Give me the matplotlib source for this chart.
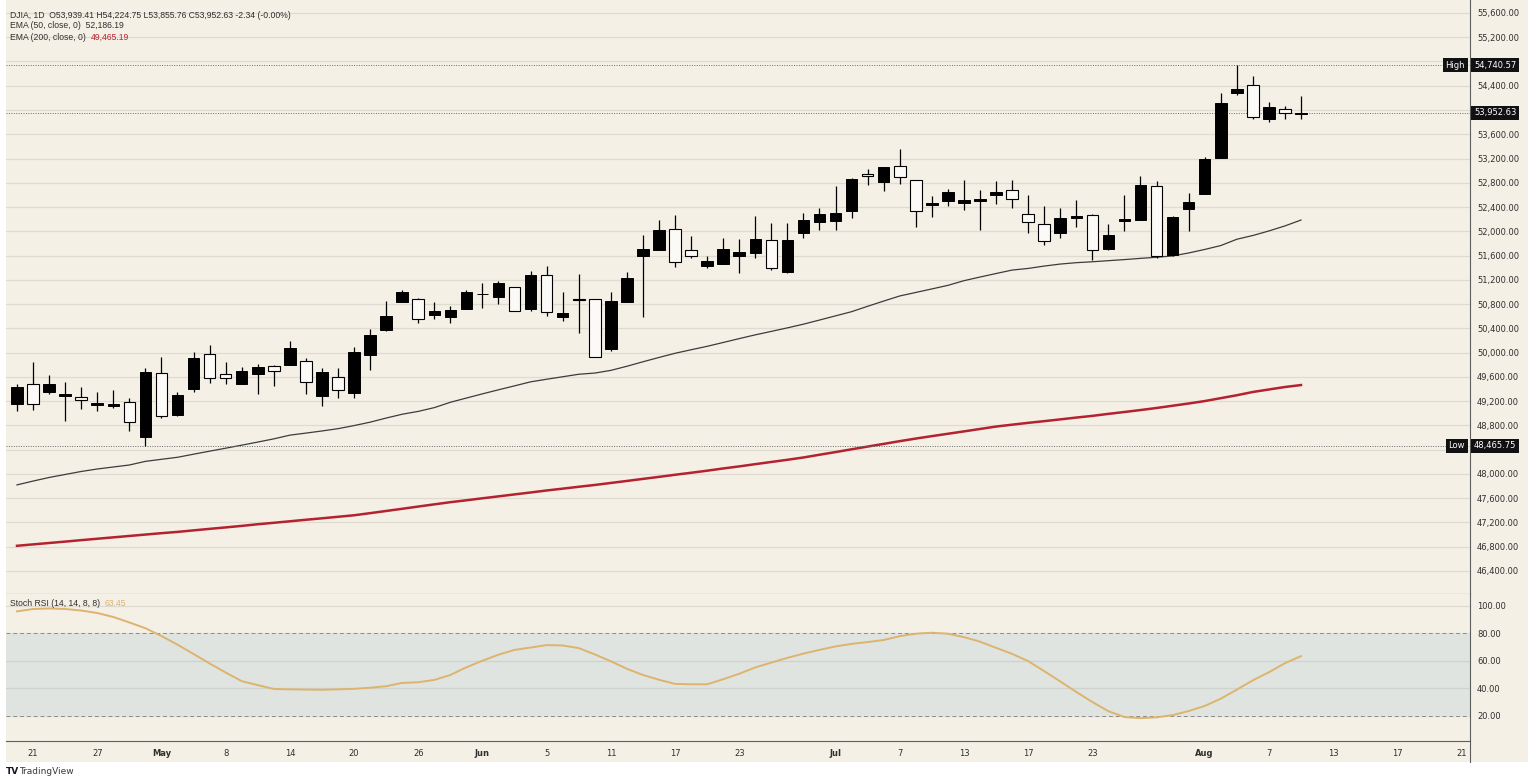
import matplotlib
matplotlib.use("Agg")
import matplotlib.pyplot as plt
import matplotlib.transforms as mtransforms
from matplotlib.patches import Rectangle
from matplotlib.lines import Line2D
import numpy as np

# DJIA daily candles (one entry per trading day)
opens = [49160, 49490, 49355, 49280, 49270, 49135, 49125, 49185, 48615, 49670,
         48975, 49405, 49985, 49650, 49475, 49655, 49780, 49795, 49860, 49280,
         49600, 49335, 49960, 50375, 50840, 50885, 50620, 50585, 50715, 50960,
         50910, 51075, 50715, 51280, 50580, 50880, 50880, 50055, 50830, 51600,
         51685, 52035, 51695, 51435, 51455, 51595, 51650, 51860, 51325, 51980,
         52150, 52165, 52330, 52945, 52815, 53085, 52840, 52430, 52495, 52475,
         52495, 52605, 52675, 52290, 52125, 51975, 52220, 52275, 51715, 52165,
         52180, 52740, 51605, 52360, 52620, 53210, 54280, 54405, 53855, 54015,
         53939.41]
highs = [49475, 49845, 49625, 49520, 49430, 49355, 49380, 49255, 49750, 49930,
         49355, 50015, 50125, 49850, 49760, 49820, 49795, 50195, 49915, 49750,
         49750, 50085, 50385, 50855, 51035, 50900, 50840, 50770, 51035, 51150,
         51175, 51090, 51340, 51435, 50995, 51295, 50880, 50995, 51325, 51940,
         52190, 52275, 51925, 51585, 51885, 51870, 52255, 52145, 52145, 52300,
         52385, 52740, 52880, 53030, 53060, 53350, 52840, 52590, 52700, 52850,
         52685, 52825, 52850, 52605, 52410, 52385, 52510, 52280, 52125, 52595,
         52905, 52835, 52260, 52630, 53225, 54280, 54740.57, 54555, 54140, 54060,
         54224.75]
lows = [49030, 49060, 49320, 48865, 49075, 49030, 49090, 48700, 48465.75, 48920,
        48960, 49350, 49500, 49475, 49475, 49320, 49445, 49795, 49310, 49125,
        49255, 49255, 49710, 50360, 50830, 50485, 50550, 50485, 50715, 50730,
        50800, 50690, 50690, 50605, 50525, 50320, 49935, 50030, 50830, 50580,
        51685, 51405, 51555, 51390, 51455, 51310, 51555, 51365, 51310, 51885,
        52025, 52025, 52220, 52770, 52660, 52785, 52070, 52235, 52410, 52355,
        52015, 52450, 52385, 51975, 51780, 51890, 52070, 51535, 51700, 52000,
        52180, 51560, 51590, 52000, 52620, 53210, 54240, 53850, 53800, 53850,
        53855.76]
closes = [49435, 49160, 49485, 49320, 49220, 49170, 49160, 48855, 49685, 48950,
          49300, 49915, 49585, 49575, 49705, 49770, 49695, 50070, 49520, 49685,
          49380, 50015, 50295, 50605, 50995, 50550, 50685, 50710, 50995, 50970,
          51140, 50690, 51285, 50675, 50645, 50870, 49935, 50845, 51225, 51705,
          52015, 51500, 51585, 51515, 51710, 51665, 51870, 51390, 51860, 52180,
          52290, 52310, 52870, 52910, 53055, 52895, 52340, 52475, 52645, 52510,
          52530, 52655, 52535, 52150, 51845, 52220, 52250, 51690, 51935, 52195,
          52760, 51590, 52230, 52485, 53190, 54115, 54350, 53880, 54045, 53950,
          53952.63]

ema50 = [47819, 47882, 47941, 47991, 48040, 48081, 48114, 48147, 48207, 48241,
         48274, 48325, 48375, 48424, 48474, 48525, 48578, 48639, 48673, 48708,
         48746, 48797, 48853, 48921, 48984, 49031, 49093, 49181, 49251, 49320,
         49387, 49452, 49518, 49561, 49602, 49643, 49663, 49707, 49775, 49849,
         49920, 49989, 50047, 50104, 50167, 50231, 50293, 50350, 50408, 50469,
         50537, 50606, 50675, 50764, 50850, 50934, 50992, 51050, 51109, 51186,
         51246, 51304, 51361, 51388, 51427, 51460, 51483, 51498, 51516, 51534,
         51554, 51572, 51594, 51643, 51701, 51765, 51869, 51931, 52006, 52089,
         52186.19]
ema200 = [46815, 46838, 46861, 46884, 46908, 46931, 46954, 46977, 47000, 47023,
          47044, 47069, 47094, 47118, 47143, 47170, 47194, 47219, 47244, 47268,
          47293, 47318, 47353, 47389, 47425, 47462, 47498, 47534, 47565, 47598,
          47630, 47662, 47694, 47727, 47757, 47788, 47818, 47851, 47884, 47918,
          47951, 47986, 48019, 48053, 48090, 48124, 48161, 48197, 48233, 48271,
          48316, 48360, 48406, 48451, 48495, 48540, 48583, 48623, 48662, 48701,
          48741, 48781, 48812, 48842, 48870, 48899, 48929, 48957, 48990, 49021,
          49053, 49087, 49124, 49161, 49201, 49249, 49297, 49351, 49392, 49433,
          49465.19]
stoch_rsi = [96.1, 97.8, 98.2, 97.8, 96.7, 94.9, 92.0, 88.0, 83.8, 78.1,
             71.8, 65.0, 58.1, 51.5, 45.2, 42.3, 39.5, 39.2, 39.0, 38.9,
             39.2, 39.6, 40.4, 41.5, 43.9, 44.4, 46.1, 49.7, 55.3, 60.1,
             64.5, 68.0, 69.7, 71.5, 71.2, 69.3, 64.7, 59.7, 54.2, 49.7,
             46.2, 43.2, 42.9, 42.9, 46.6, 50.6, 55.2, 58.7, 62.2, 65.3,
             68.0, 70.5, 72.4, 73.7, 75.2, 78.0, 79.8, 80.5, 79.8, 77.3,
             74.0, 69.5, 65.1, 59.8, 52.5, 45.0, 37.3, 30.0, 23.3, 19.0,
             18.2, 18.8, 20.4, 23.4, 27.1, 32.4, 39.0, 45.8, 51.7, 58.3,
             63.45]

# date labels under the chart, at the bar they belong to
tick_bars = [1, 5, 9, 13, 17, 21, 25, 29, 33, 37, 41, 45, 51, 55, 59, 63, 67,
             74, 78, 82, 86, 90]
tick_labels = ['21', '27', 'May', '8', '14', '20', '26', 'Jun', '5', '11', '17',
               '23', 'Jul', '7', '13', '17', '23', 'Aug', '7', '13', '17', '21']
months = {'May', 'Jun', 'Jul', 'Aug'}

high_price = 54740.57
low_price = 48465.75
last_close = 53952.63

W, H = 1528, 784
BG = '#f4f0e6'
GRID = '#dfdbd0'
TXT = '#2f2f2f'
BORDER = '#5e5e5e'
LEG_FONT = ['Liberation Sans', 'DejaVu Sans']

fig = plt.figure(figsize=(W / 100, H / 100), dpi=100, facecolor='white')
fig.patches.append(Rectangle((6 / W, 1 - 762 / H), 1 - 6 / W, 762 / H,
                             transform=fig.transFigure, facecolor=BG,
                             edgecolor='none', zorder=-10))

ax = fig.add_axes([6 / W, 1 - 594 / H, 1464 / W, 594 / H], facecolor=BG)
rx = fig.add_axes([6 / W, 1 - 741 / H, 1464 / W, 147 / H], facecolor=BG, sharex=ax)

x = np.arange(len(closes))
o = np.array(opens); c = np.array(closes)
up = c >= o

# price grid
price_ticks = np.arange(46400, 55601, 400)
for p in price_ticks:
    ax.axhline(p, color=GRID, lw=0.9, zorder=0)

# candles
ax.vlines(x, lows, highs, color='black', lw=0.9, zorder=2)
body_lo = np.minimum(o, c)
body_h = np.maximum(np.abs(c - o), 12)
ax.bar(x[up], body_h[up], bottom=body_lo[up], width=0.72, color='black',
       edgecolor='black', lw=0.7, zorder=3)
ax.bar(x[~up], body_h[~up], bottom=body_lo[~up], width=0.72, color='#fbfaf6',
       edgecolor='black', lw=0.8, zorder=3)

# moving averages
ax.plot(x, ema50, color='#3c3c3c', lw=0.9, zorder=1)
ax.plot(x, ema200, color='#b5222f', lw=1.8, zorder=1)

# high / low / last close lines
for p in (high_price, last_close, low_price):
    ax.axhline(p, color='#6a6a6a', lw=0.7, ls=(0, (1, 1.5)), zorder=1)

ax.set_xlim(-0.685, 90.53)
ax.set_ylim(46020, 55814)
ax.yaxis.tick_right()
# scale labels sitting under the last-close and low tags are hidden, as on the chart
shown = [p for p in price_ticks if p not in (54000, 48400)]
ax.set_yticks(shown)
ax.set_yticklabels([f'{p:,.2f}' for p in shown])
ax.tick_params(axis='y', length=0, pad=5, labelsize=6, labelcolor=TXT)
ax.tick_params(axis='x', length=0, labelbottom=False)
for s in ('top', 'left'):
    ax.spines[s].set_visible(False)
ax.spines['right'].set_color(BORDER)
ax.spines['bottom'].set_color(BORDER)
ax.spines['right'].set_linewidth(0.8)
ax.spines['bottom'].set_linewidth(0.8)

# price tags on the scale
tr = mtransforms.blended_transform_factory(ax.transAxes, ax.transData)
tag = dict(boxstyle='square,pad=0.3', fc='#111111', ec='none')
for p, name in ((high_price, 'High'), (last_close, None), (low_price, 'Low')):
    ax.text(1.0 + 4 / 1464, p, f'{p:,.2f}', transform=tr, ha='left', va='center',
            fontsize=6, color='white', bbox=tag, clip_on=False, zorder=10)
    if name:
        ax.text(1.0 - 5 / 1464, p, name, transform=tr, ha='right', va='center',
                fontsize=6, color='white', bbox=tag, clip_on=False, zorder=10)

# legend lines top-left
fs = 6.2
fig.text(10 / W, 1 - 15 / H,
         'DJIA, 1D  O53,939.41 H54,224.75 L53,855.76 C53,952.63 -2.34 (-0.00%)',
         fontsize=fs, color=TXT, va='center', family=LEG_FONT)
fig.text(10 / W, 1 - 26 / H, 'EMA (50, close, 0)  52,186.19', fontsize=fs,
         color=TXT, va='center', family=LEG_FONT)
t200 = fig.text(10 / W, 1 - 37 / H, 'EMA (200, close, 0)  ', fontsize=fs,
                color=TXT, va='center', family=LEG_FONT)
ax.annotate('49,465.19', xy=(1, 0.5), xycoords=t200, va='center', ha='left',
            fontsize=fs, color='#b5222f', annotation_clip=False, family=LEG_FONT)

# stoch rsi pane
rx.axhspan(20, 80, color='#e0e4e1', zorder=0)
for v in (100, 60, 40):
    rx.axhline(v, color='#cfd2cf' if v != 100 else GRID, lw=0.9, zorder=1)
for v in (80, 20):
    rx.axhline(v, color='#8c8c8c', lw=0.7, ls=(0, (4, 3)), zorder=1)
rx.plot(x, stoch_rsi, color='#dcb46e', lw=1.4, zorder=3)
rx.set_ylim(1.55, 108.75)
rx.yaxis.tick_right()
rx.set_yticks([100, 80, 60, 40, 20])
rx.set_yticklabels([f'{v:.2f}' for v in (100, 80, 60, 40, 20)])
rx.tick_params(axis='y', length=0, pad=5, labelsize=6, labelcolor=TXT)
rx.set_xticks(tick_bars)
rx.set_xticklabels(tick_labels)
rx.tick_params(axis='x', length=0, pad=6, labelsize=6, labelcolor=TXT)
for lab in rx.get_xticklabels():
    if lab.get_text() in months:
        lab.set_fontweight('bold')
for s in ('top', 'left'):
    rx.spines[s].set_visible(False)
rx.spines['right'].set_color(BORDER)
rx.spines['bottom'].set_color(BORDER)
rx.spines['right'].set_linewidth(0.8)
rx.spines['bottom'].set_linewidth(0.8)

trsi = fig.text(10 / W, 1 - 604 / H, 'Stoch RSI (14, 14, 8, 8)  ', fontsize=fs,
                color=TXT, va='center', family=LEG_FONT)
rx.annotate(f'{stoch_rsi[-1]:.2f}', xy=(1, 0.5), xycoords=trsi, va='center',
            ha='left', fontsize=fs, color='#dcb46e', annotation_clip=False,
            family=LEG_FONT)

# scale border running down through the date row
fig.add_artist(Line2D([1470 / W, 1470 / W], [1 - 762 / H, 1 - 741 / H],
                      transform=fig.transFigure, color=BORDER, lw=0.8))

# footer
fig.text(6 / W, 1 - 772 / H, 'TV', fontsize=6.5, fontweight='heavy',
         color='#131722', va='center')
fig.text(19 / W, 1 - 772 / H, 'TradingView', fontsize=6.5, color='#3a3a3a',
         va='center')

fig.savefig('out.png', dpi=100, facecolor='white')
